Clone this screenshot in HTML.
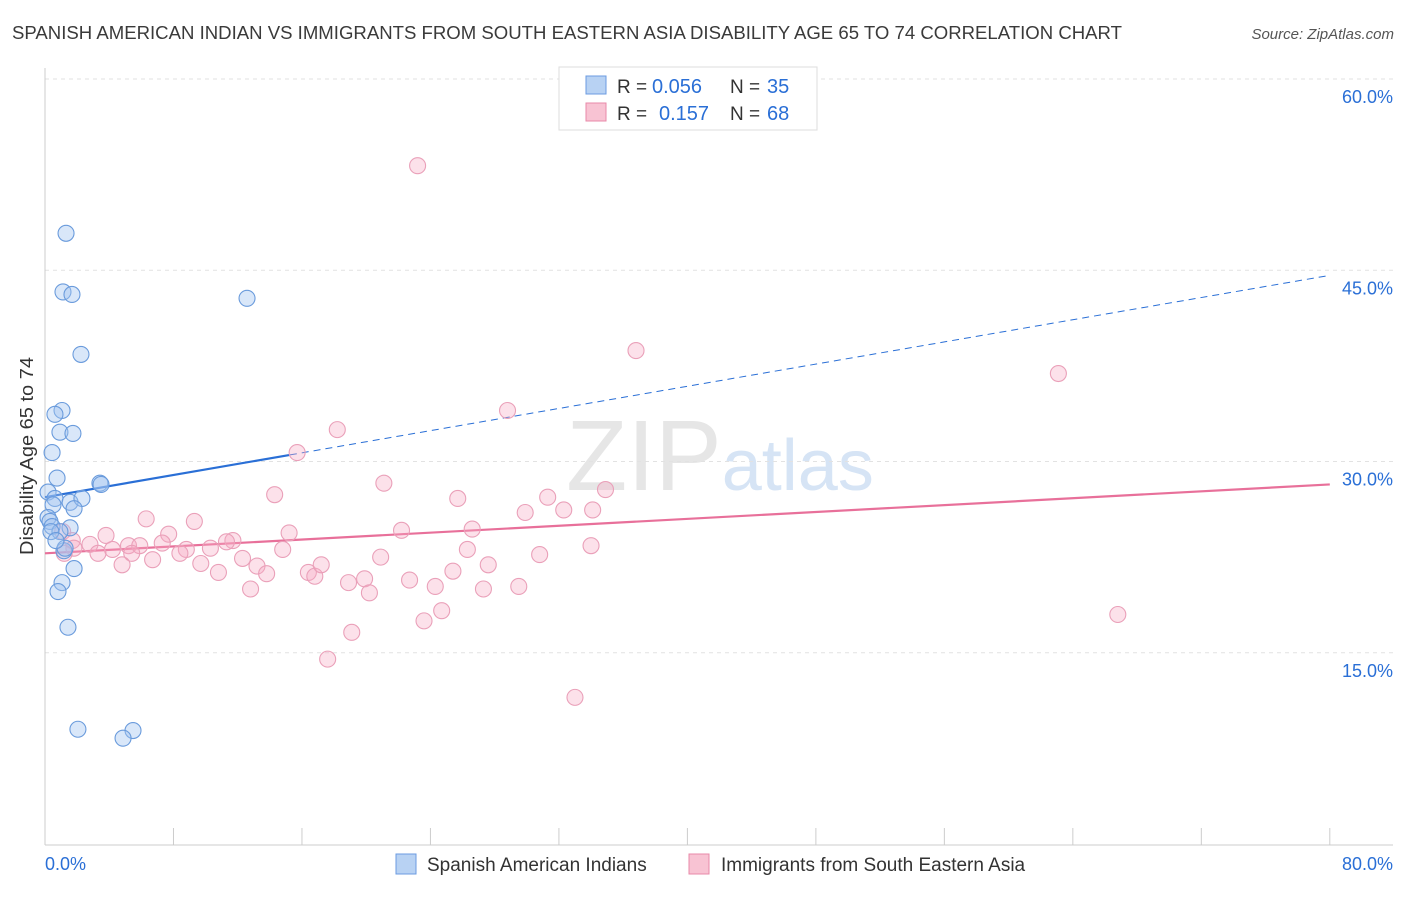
<!DOCTYPE html>
<html><head><meta charset="utf-8"><style>
body{margin:0;background:#fff;font-family:"Liberation Sans",sans-serif;}
svg text{font-family:"Liberation Sans",sans-serif;}
</style></head><body>
<svg id="chart" width="1406" height="892" viewBox="0 0 1406 892" xmlns="http://www.w3.org/2000/svg">
<text x="12" y="39" font-size="18" fill="#3a3a3a" textLength="1110" lengthAdjust="spacingAndGlyphs">SPANISH AMERICAN INDIAN VS IMMIGRANTS FROM SOUTH EASTERN ASIA DISABILITY AGE 65 TO 74 CORRELATION CHART</text>
<text x="1394" y="39" font-size="15" fill="#555" text-anchor="end" font-style="italic">Source: ZipAtlas.com</text>
<text x="720" y="490" font-size="100" fill="#e6e6e6" text-anchor="middle" font-family="Liberation Serif">ZIP<tspan fill="#d6e4f5" font-family="Liberation Sans" font-size="72">atlas</tspan></text>
<text transform="translate(33,456) rotate(-90)" font-size="18" fill="#333" text-anchor="middle" textLength="198" lengthAdjust="spacingAndGlyphs">Disability Age 65 to 74</text>
<g id="grid"></g><g id="axes"></g><g id="trend"></g><g id="pts"></g>
<g>
<rect x="559" y="67" width="258" height="63" fill="#fff" stroke="#ddd"/>
<rect x="586" y="76" width="20" height="18" fill="#b8d2f3" stroke="#6b9be0"/>
<text x="617" y="93" font-size="19" fill="#333">R =</text>
<text x="652" y="93" font-size="20" fill="#2a6fd6">0.056</text>
<text x="730" y="93" font-size="19" fill="#333">N =</text>
<text x="767" y="93" font-size="20" fill="#2a6fd6">35</text>
<rect x="586" y="103" width="20" height="18" fill="#f8c3d3" stroke="#e88aa8"/>
<text x="617" y="120" font-size="19" fill="#333">R =</text>
<text x="659" y="120" font-size="20" fill="#2a6fd6">0.157</text>
<text x="730" y="120" font-size="19" fill="#333">N =</text>
<text x="767" y="120" font-size="20" fill="#2a6fd6">68</text>
</g>
<g>
<rect x="396" y="854" width="20" height="20" fill="#b8d2f3" stroke="#6b9be0"/>
<text x="427" y="871" font-size="19" fill="#333">Spanish American Indians</text>
<rect x="689" y="854" width="20" height="20" fill="#f8c3d3" stroke="#e88aa8"/>
<text x="721" y="871" font-size="19" fill="#333">Immigrants from South Eastern Asia</text>
</g>
</svg>
<script>
const blueX=[1.31,1.12,1.68,2.24,12.58,1.06,0.62,0.93,1.74,0.44,0.75,3.42,3.49,0.19,0.62,1.56,2.30,1.81,0.5,0.19,0.31,0.44,1.56,0.93,0.37,1.18,1.81,1.06,0.81,1.43,2.05,5.48,4.86,1.25,0.68];
const blueY=[47.9,43.3,43.1,38.4,42.8,34.0,33.7,32.3,32.2,30.7,28.7,28.3,28.2,27.6,27.1,26.8,27.1,26.3,26.6,25.6,25.3,24.9,24.8,24.5,24.5,23.0,21.6,20.5,19.8,17.0,9.0,8.9,8.3,23.2,23.8];
const pinkX=[23.2,36.8,63.1,28.8,18.2,15.7,21.1,14.3,25.7,31.3,34.9,29.9,32.3,34.1,6.3,9.3,22.2,15.2,26.6,3.8,7.7,5.2,11.7,1.1,1.7,2.8,4.2,5.9,7.3,8.8,10.3,11.3,8.4,1.2,3.3,5.4,6.7,12.3,14.8,20.9,26.3,30.8,34.0,4.8,9.7,13.2,10.8,13.8,16.4,16.8,17.2,25.4,27.6,19.9,18.9,22.7,20.2,24.3,27.3,29.5,12.8,24.7,23.6,19.1,17.6,33.0,66.8,1.8];
const pinkY=[53.2,38.7,36.9,34.0,32.5,30.7,28.3,27.4,27.1,27.2,27.8,26.0,26.2,26.2,25.5,25.3,24.6,24.4,24.7,24.2,24.3,23.4,23.8,24.5,23.8,23.5,23.1,23.4,23.6,23.1,23.2,23.7,22.8,22.8,22.8,22.8,22.3,22.4,23.1,22.5,23.1,22.7,23.4,21.9,22.0,21.8,21.3,21.2,21.3,21.0,21.9,21.4,21.9,20.8,20.5,20.7,19.7,20.2,20.0,20.2,20.0,18.3,17.5,16.6,14.5,11.5,18.0,23.2];
const yTicks=[15,30,45,60];
const yTickLabels=["15.0%","30.0%","45.0%","60.0%"];
const blueTrend=[27.2,44.6];
const blueSolidEnd=15.25;
const pinkTrend=[22.8,28.2];
const NS="http://www.w3.org/2000/svg";
const xs=v=>45+v*16.06, ys=v=>79+(60-v)*12.75;
function mk(t,a,p){const e=document.createElementNS(NS,t);for(const k in a)e.setAttribute(k,a[k]);p.appendChild(e);return e;}
const grid=document.getElementById('grid'),axes=document.getElementById('axes');
yTicks.forEach((t,i)=>{
 const l=mk('line',{x1:45,x2:1393,y1:ys(t),y2:ys(t),stroke:'#e2e2e2','stroke-dasharray':'4,4'},grid);
 
 
 const tx=mk('text',{x:1393,y:ys(t)+24,'font-size':18,fill:'#2a6fd6','text-anchor':'end'},axes);
 tx.textContent=yTickLabels[i];
 
 
});
mk('line',{x1:45,x2:45,y1:68,y2:845,stroke:'#ccc'},axes);
mk('line',{x1:45,x2:1393,y1:845,y2:845,stroke:'#ccc'},axes);
for(let i=0;i<=10;i++){const x=xs(i*8);const t=mk('line',{x1:x,x2:x,y1:828,y2:845,stroke:'#ccc'},axes);
 
 }
const x0=mk('text',{x:45,y:870,'font-size':18,fill:'#2a6fd6'},axes);x0.textContent='0.0%';


const x1=mk('text',{x:1393,y:870,'font-size':18,fill:'#2a6fd6','text-anchor':'end'},axes);x1.textContent='80.0%';


const tr=document.getElementById('trend');
const bAt=x=>blueTrend[0]+(blueTrend[1]-blueTrend[0])*x/80;
const pAt=x=>pinkTrend[0]+(pinkTrend[1]-pinkTrend[0])*x/80;
const pts=document.getElementById('pts');
pinkX.forEach((x,i)=>{const c=mk('circle',{cx:xs(x),cy:ys(pinkY[i]),r:8,fill:'rgba(245,170,195,0.35)',stroke:'#eaa0b9','stroke-width':1.1},pts);
 
 });
blueX.forEach((x,i)=>{const c=mk('circle',{cx:xs(x),cy:ys(blueY[i]),r:8,fill:'rgba(160,195,240,0.4)',stroke:'#6a9bdc','stroke-width':1.1},pts);
 
 });
const b1=mk('line',{x1:xs(0),y1:ys(bAt(0)),x2:xs(blueSolidEnd),y2:ys(bAt(blueSolidEnd)),stroke:'#2a6fd6','stroke-width':2.2},tr);


const b2=mk('line',{x1:xs(blueSolidEnd),y1:ys(bAt(blueSolidEnd)),x2:xs(80),y2:ys(bAt(80)),stroke:'#2a6fd6','stroke-width':1,'stroke-dasharray':'7,5'},tr);


const p1=mk('line',{x1:xs(0),y1:ys(pAt(0)),x2:xs(80),y2:ys(pAt(80)),stroke:'#e8709a','stroke-width':2.2},tr);


</script>
</body></html>
